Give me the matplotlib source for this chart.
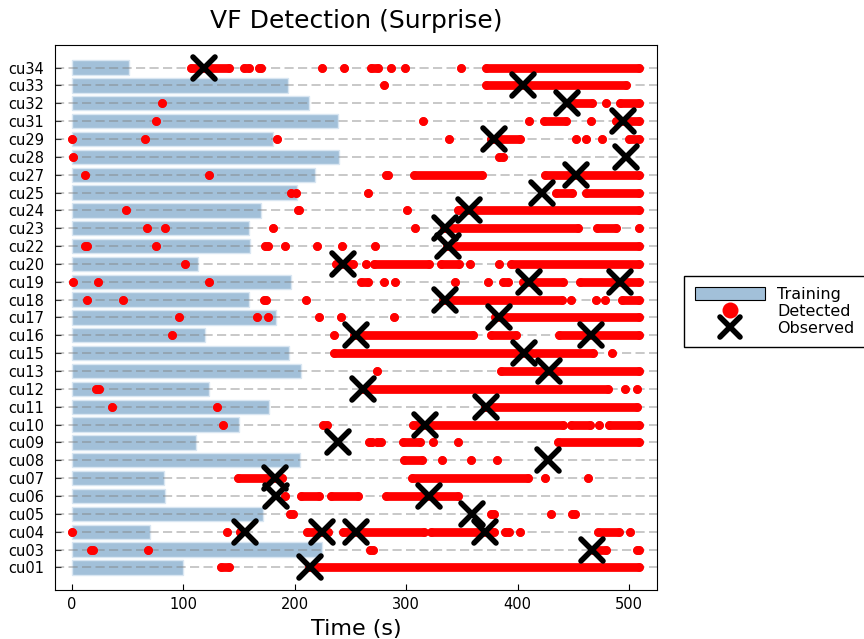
import matplotlib.pyplot as plt
from matplotlib.patches import Patch
from matplotlib.lines import Line2D
from matplotlib.markers import MarkerStyle

# patients, bottom to top
patients = ["cu01", "cu03", "cu04", "cu05", "cu06", "cu07", "cu08", "cu09", "cu10",
            "cu11", "cu12", "cu13", "cu15", "cu16", "cu17", "cu18", "cu19", "cu20",
            "cu22", "cu23", "cu24", "cu25", "cu27", "cu28", "cu29", "cu31", "cu32",
            "cu33", "cu34"]

# length of the training window (s)
training = [99.3, 224.6, 69.5, 171, 83.8, 82.5, 204.7, 111.3, 149.6,
            177, 122.5, 205.5, 194.6, 119, 183.5, 159, 196.5, 113,
            160, 159, 170, 202, 218, 240, 180.5, 239, 213,
            194, 51]

# detections as (start, end) runs in seconds, single detections have start == end
detected = [
    [(134, 141), (213, 509.3)],                                                    # cu01
    [(16.8, 18.8), (68.5, 68.5), (267.3, 270.3), (468, 479), (507, 509)],         # cu03
    [(0.3, 0.3), (139.5, 139.5), (150.5, 150.5), (210.5, 229.3), (243.3, 316),
     (322, 379), (389, 392.5), (402, 402), (471.8, 491), (500.5, 500.5)],         # cu04
    [(195.5, 198), (375.7, 379), (430, 430), (448.5, 451.5)],                     # cu05
    [(191.5, 191.5), (205.2, 222), (232.2, 257), (281.5, 346.7)],                 # cu06
    [(148.5, 188.5), (305.5, 409), (424.7, 424.7), (462.7, 462.7)],               # cu07
    [(298, 314), (332.3, 332.3), (358.5, 358.5), (381.6, 381.6)],                 # cu08
    [(266.5, 269), (273.5, 277), (297, 312.5), (324, 324), (346.5, 346.5),
     (436, 509)],                                                                 # cu09
    [(135.3, 135.3), (225.5, 228.5), (306, 441), (448, 465), (473, 473),
     (482, 509)],                                                                 # cu10
    [(35.5, 35.5), (129.7, 129.7), (371, 507.5)],                                 # cu11
    [(21.5, 24.5), (261, 481.5), (496.4, 496.4), (507.3, 507.3)],                 # cu12
    [(274, 274), (384.7, 509)],                                                   # cu13
    [(235.5, 467.3), (484.7, 484.7)],                                             # cu15
    [(89.7, 89.7), (235, 235), (253, 359.5), (376.5, 398.5), (437, 509)],         # cu16
    [(95.8, 95.8), (166, 166), (175.8, 175.8), (222, 222), (241.6, 241.6),
     (289.3, 289.3), (380, 509)],                                                 # cu17
    [(13.3, 13.3), (45.5, 45.5), (172.5, 174), (210.2, 210.2), (333, 439.5),
     (447.6, 447.6), (470.4, 470.4), (478.2, 478.2), (494, 509)],                 # cu18
    [(0.5, 0.5), (23.5, 23.5), (122.8, 122.8), (259.5, 266), (280, 280),
     (290, 290), (343.5, 343.5), (373.3, 373.3), (386.5, 391), (405, 441),
     (456, 509)],                                                                 # cu19
    [(101.3, 101.3), (236.5, 251.8), (263.7, 263.7), (271, 320.6), (331, 347),
     (357, 357), (383.5, 383.5), (394.3, 509)],                                   # cu20
    [(11.5, 13.5), (75.5, 75.5), (173.5, 175.5), (191.3, 191.3), (220, 220),
     (242, 242), (272, 272), (337, 509)],                                         # cu22
    [(67.5, 67.5), (83, 83), (180.5, 180.5), (308, 308), (334, 454.5),
     (471.3, 488), (509, 509)],                                                   # cu23
    [(48, 48), (202.5, 204), (300.3, 300.3), (346, 509)],                         # cu24
    [(196.3, 196.3), (201.4, 201.4), (265.5, 265.5), (434.7, 449), (461, 509)],   # cu25
    [(12, 12), (123, 123), (282, 284), (306.5, 368), (424.3, 509)],               # cu27
    [(0.5, 0.5), (383, 387)],                                                     # cu28
    [(0.2, 0.2), (65.4, 65.4), (184, 184), (338, 338), (376, 402), (452, 452),
     (461, 461), (475.5, 475.5), (500, 509)],                                     # cu29
    [(75.5, 75.5), (315, 315), (410, 410), (424, 443), (466, 466), (488, 509)],   # cu31
    [(81, 81), (446, 467), (479, 479), (492, 509)],                               # cu32
    [(280, 280), (372, 497)],                                                     # cu33
    [(106.5, 140.5), (154, 158.5), (168, 170), (224.5, 224.5), (244.5, 244.5),
     (268, 274.5), (286.5, 286.5), (298.5, 298.5), (349.5, 349.5), (372, 509)],   # cu34
]

# observed VF onsets (s)
observed = [[213.7], [466.7], [155.2, 224, 254.5, 370.4], [359], [183.3, 320],
            [182], [427], [239], [316.5], [371.3], [261.3], [428], [406],
            [255.3, 466], [383], [335], [410, 492], [243.5], [337.5], [334.5],
            [356.5], [421.5], [452], [497], [378.5], [495], [444], [405], [118]]

bar_color = (70/255, 130/255, 180/255, 0.5)

fig = plt.figure(figsize=(8.64, 6.39), dpi=100)
ax = fig.add_axes([0.0637, 0.0767, 0.6970, 0.8529])

ypos = list(range(len(patients)))

ax.barh(ypos, training, height=0.8, left=0, color=bar_color,
        edgecolor=(0.85, 0.9, 0.95), linewidth=1, zorder=1)

for y in ypos:
    ax.axhline(y, color="gray", alpha=0.5, lw=1.2, ls=(0, (5.5, 2.6)), zorder=2)

for y, runs in zip(ypos, detected):
    for s, e in runs:
        ax.plot([s, e], [y, y], "-o", color="red", lw=6.3, ms=6.3, mec="none",
                solid_capstyle="round", zorder=3)

xmark = MarkerStyle("x", capstyle="round", joinstyle="round")
for y, obs in zip(ypos, observed):
    ax.plot(obs, [y] * len(obs), ls="none", marker=xmark, color="black",
            ms=16, mew=4, zorder=4)

ax.set_xlim(-15.3, 525.3)
ax.set_ylim(-1.264, 29.264)
ax.set_yticks(ypos)
ax.set_yticklabels(patients)
ax.set_xticks([0, 100, 200, 300, 400, 500])
ax.tick_params(direction="in", length=4, labelsize=10.5)
ax.tick_params(axis="y", pad=8)
ax.tick_params(axis="x", pad=5)
ax.set_title("VF Detection (Surprise)", fontsize=18, pad=12)
ax.set_xlabel("Time (s)", fontsize=16, labelpad=5)

handles = [
    Patch(facecolor=bar_color, edgecolor="black", linewidth=0.8),
    Line2D([], [], ls="none", marker="o", color="red", ms=11.5, mec="none"),
    Line2D([], [], ls="none", marker=xmark, color="black", ms=14, mew=4),
]
fig.legend(handles, ["Training", "Detected", "Observed"],
           loc="center left", bbox_to_anchor=(0.7917, 0.5125), fontsize=11.5,
           frameon=True, fancybox=False, edgecolor="black", framealpha=1,
           handlelength=4.4, handleheight=0.9, labelspacing=0.12,
           handletextpad=0.75, borderpad=0.7, borderaxespad=0)

plt.savefig("out.png", dpi=100)
